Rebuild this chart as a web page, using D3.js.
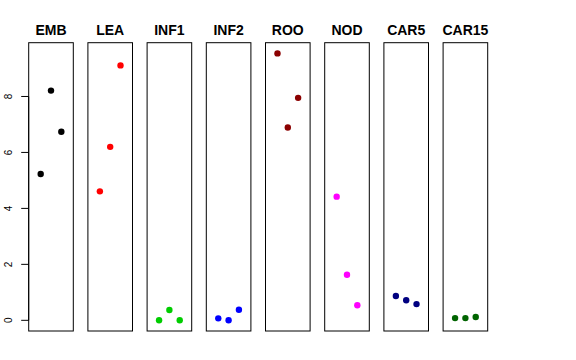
<!DOCTYPE html>
<html>
<head>
<meta charset="utf-8">
<script src="https://cdn.jsdelivr.net/npm/d3@7"></script>
<style>
  html, body { margin: 0; padding: 0; background: #fff; }
  svg { display: block; }
</style>
</head>
<body>
<svg id="chart" width="576" height="360"></svg>
<script>
const categories = ["EMB", "LEA", "INF1", "INF2", "ROO", "NOD", "CAR5", "CAR15"];
const colors = ["#000000", "#FF0000", "#00CD00", "#0000FF", "#8B0000", "#FF00FF", "#000080", "#006400"];
const replicate = [1, 2, 3];
const EMB = [5.23, 8.21, 6.74];
const LEA = [4.61, 6.20, 9.11];
const INF1 = [0.00, 0.37, 0.00];
const INF2 = [0.07, 0.00, 0.38];
const ROO = [9.54, 6.89, 7.95];
const NOD = [4.42, 1.63, 0.54];
const CAR5 = [0.87, 0.72, 0.58];
const CAR15 = [0.08, 0.08, 0.12];
const seriesValues = [EMB, LEA, INF1, INF2, ROO, NOD, CAR5, CAR15];
const yTicks = [0, 2, 4, 6, 8];

const svg = d3.select("#chart");
const panelLeft0 = 28.7, panelStep = 59.2, panelW = 44.6;
const plotTop = 42.7, plotBottom = 331;

const yMax = d3.max(seriesValues.flat()), yMin = 0;
const pad = (yMax - yMin) * 0.04;
const y = d3.scaleLinear().domain([yMin - pad, yMax + pad]).range([plotBottom, plotTop]);

categories.forEach((cat, i) => {
  const left = panelLeft0 + i * panelStep;
  const x = d3.scaleLinear().domain([-0.16, 4.16]).range([left, left + panelW]);
  const g = svg.append("g");
  g.append("rect")
    .attr("x", left).attr("y", plotTop)
    .attr("width", panelW).attr("height", plotBottom - plotTop)
    .attr("fill", "none").attr("stroke", "#000").attr("stroke-width", 1);
  g.append("text")
    .attr("x", left + panelW / 2).attr("y", 34.5)
    .attr("text-anchor", "middle")
    .attr("font-family", "Liberation Sans, Arial, sans-serif")
    .attr("font-weight", "bold").attr("font-size", 14)
    .text(cat);
  g.selectAll("circle").data(seriesValues[i]).join("circle")
    .attr("cx", (d, j) => x(replicate[j]))
    .attr("cy", d => y(d))
    .attr("r", 3.2)
    .attr("fill", colors[i]);
  if (i === 0) {
    const ax = svg.append("g").attr("transform", `translate(${left},0)`);
    ax.append("line").attr("x1", 0).attr("x2", 0)
      .attr("y1", y(yTicks[0])).attr("y2", y(yTicks[yTicks.length - 1]))
      .attr("stroke", "#000");
    yTicks.forEach(t => {
      ax.append("line").attr("x1", -7.5).attr("x2", 0)
        .attr("y1", y(t)).attr("y2", y(t)).attr("stroke", "#000");
      ax.append("text")
        .attr("transform", `translate(${-17.2},${y(t)}) rotate(-90)`)
        .attr("text-anchor", "middle")
        .attr("font-family", "Liberation Sans, Arial, sans-serif")
        .attr("font-size", 10)
        .text(t);
    });
  }
});
</script>
</body>
</html>
